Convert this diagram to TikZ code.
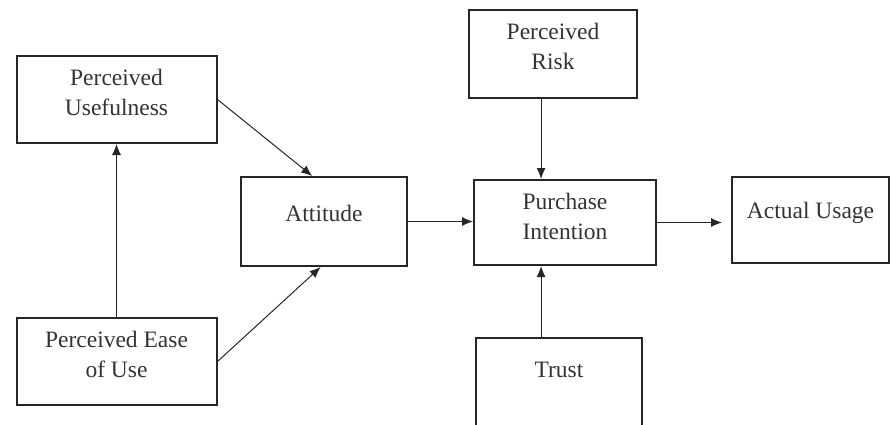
\documentclass[tikz,border=0pt]{standalone}
\usepackage{fontspec}
\setmainfont{Liberation Serif}
\usetikzlibrary{arrows.meta, calc}

\begin{document}
\begin{tikzpicture}[x=1pt, y=-1pt,
    box/.style={draw=black!85, line width=2pt, align=center, inner sep=0pt,
        font=\fontsize{23.5}{30}\selectfont, text=black!80},
    link/.style={draw=black!85, line width=1pt, -{Latex[length=11pt, width=9pt]}}]
    % Fix the page size
    \useasboundingbox (0,0) rectangle (891,425);
    \clip (0,0) rectangle (891,425);

    % Draw the boxes
    \node[box, minimum width=200pt, minimum height=87pt, text depth=14pt] (pu) at (116.5, 99.5) {Perceived\\Usefulness};
    \node[box, minimum width=200pt, minimum height=87pt, text depth=14pt] (peu) at (116.5, 361.5) {Perceived Ease\\of Use};
    \node[box, minimum width=166pt, minimum height=89pt, text depth=16pt] (att) at (324, 221.5) {Attitude};
    \node[box, minimum width=168pt, minimum height=88pt, text depth=16pt] (pr) at (553, 54) {Perceived\\Risk};
    \node[box, minimum width=182pt, minimum height=85pt, text depth=12pt] (pi) at (565, 222.5) {Purchase\\Intention};
    \node[box, minimum width=157pt, minimum height=86pt, text depth=20pt] (au) at (810.5, 220) {Actual Usage};
    \node[box, minimum width=166pt, minimum height=94pt, text depth=30pt] (trust) at (559, 385) {Trust};

    % Draw the links
    \draw[link] (peu.north) -- (pu.south);
    \draw[link] (pu.east) -- ($(att.north west)!0.43!(att.north east)$);
    \draw[link] (peu.east) -- ($(att.south west)!0.48!(att.south east)$);
    \draw[link] (att.east) -- (att.east -| pi.west);
    \coordinate (pitop) at ($(pi.north west)!0.37!(pi.north east)$);
    \coordinate (pibot) at ($(pi.south west)!0.37!(pi.south east)$);
    \draw[link] (pr.south -| pitop) -- (pitop);
    \draw[link] (trust.north -| pibot) -- (pibot);
    \draw[link, shorten >=9pt] (pi.east) -- (pi.east -| au.west);
\end{tikzpicture}
\end{document}
